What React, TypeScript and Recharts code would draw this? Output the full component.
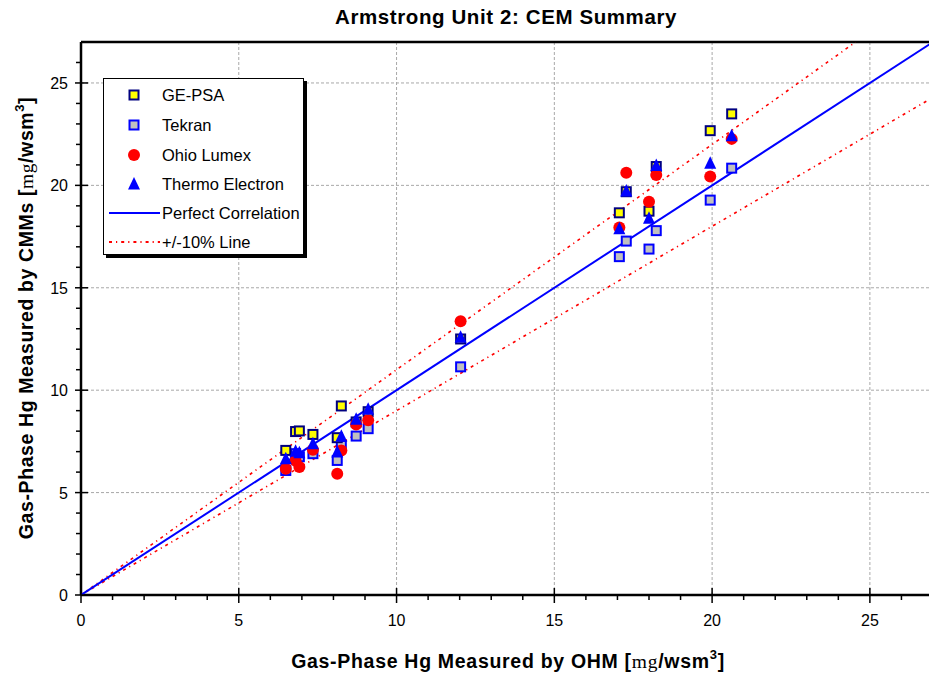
import React from "react";
import { ScatterChart, Scatter, XAxis, YAxis, CartesianGrid, ReferenceLine } from "recharts";

const ohmX = [6.49, 6.80, 6.92, 7.35, 8.12, 8.25, 8.72, 9.10, 12.03, 17.06, 17.28, 18.00, 18.23, 19.94, 20.62];
const gePsa = [7.06, 7.98, 8.01, 7.84, 7.68, 9.23, 8.45, 8.95, 12.50, 18.66, 19.69, 18.74, 20.92, 22.67, 23.49];
const tekran = [6.08, 6.90, 6.75, 6.90, 6.57, 7.30, 7.76, 8.12, 11.14, 16.52, 17.28, 16.89, 17.79, 19.28, 20.84];
const ohioLumex = [6.16, 6.55, 6.25, 7.09, 5.92, 7.06, 8.32, 8.53, 13.36, 17.94, 20.62, 19.20, 20.51, 20.43, 22.27];
const thermo = [6.65, 7.02, 6.95, 7.39, 6.98, 7.75, 8.58, 9.07, 12.58, 17.88, 19.72, 18.39, 20.97, 21.08, 22.42];

const perfectLine = [{ x: 0, y: 0 }, { x: 27, y: 27 }];
const plusLine = [{ x: 0, y: 0 }, { x: 24.55, y: 27 }];
const minusLine = [{ x: 0, y: 0 }, { x: 27, y: 24.3 }];

const axisTicks = Array.from({ length: 27 }, (_, i) => i);
const gridValues = [5, 10, 15, 20, 25];

const FONT = "'Liberation Sans', Arial, Helvetica, sans-serif";
const RED_DASH = "3 4 1.2 4";

const toPoints = (ys: number[]) => ohmX.map((x, i) => ({ x, y: ys[i] }));

const makeSquare = (fill: string, stroke: string) => (props: any) => {
  const { cx, cy } = props;
  if (cx == null || cy == null) return <g />;
  return <rect x={cx - 4.5} y={cy - 4.5} width={9} height={9} fill={fill} stroke={stroke} strokeWidth={2} />;
};
const CircleShape = (props: any) => {
  const { cx, cy } = props;
  if (cx == null || cy == null) return <g />;
  return <circle cx={cx} cy={cy} r={6} fill="#ff0000" />;
};
const TriangleShape = (props: any) => {
  const { cx, cy } = props;
  if (cx == null || cy == null) return <g />;
  return <polygon points={`${cx},${cy - 7} ${cx + 6},${cy + 5.5} ${cx - 6},${cy + 5.5}`} fill="#0000ff" />;
};
const NoShape = () => <g />;

const XTick = (props: any) => {
  const { x, y, payload } = props;
  const v = payload.value;
  const major = v % 5 === 0;
  return (
    <g>
      <line x1={x} x2={x} y1={major ? y - 7 : y} y2={y + (major ? 8 : 5)} stroke="#000" strokeWidth={1.5} />
      {major && (
        <text x={x} y={y + 31} textAnchor="middle" fontSize={16} fontFamily={FONT} fill="#000">
          {v}
        </text>
      )}
    </g>
  );
};

const YTick = (props: any) => {
  const { x, y, payload } = props;
  const v = payload.value;
  const major = v % 5 === 0;
  return (
    <g>
      <line x1={x - (major ? 6 : 5)} x2={major ? x + 7 : x} y1={y} y2={y} stroke="#000" strokeWidth={1.5} />
      {major && (
        <text x={x - 13} y={y + 6} textAnchor="end" fontSize={16} fontFamily={FONT} fill="#000">
          {v}
        </text>
      )}
    </g>
  );
};

const legendRows = [
  { label: "GE-PSA", kind: "ge" },
  { label: "Tekran", kind: "tek" },
  { label: "Ohio Lumex", kind: "ohio" },
  { label: "Thermo Electron", kind: "thermo" },
  { label: "Perfect Correlation", kind: "perfect" },
  { label: "+/-10% Line", kind: "ten" },
];

const LegendMarker = ({ kind, y }: { kind: string; y: number }) => {
  const cx = 30;
  if (kind === "ge") return <rect x={cx - 4.5} y={y - 4.5} width={9} height={9} fill="#ffff00" stroke="#000080" strokeWidth={2} />;
  if (kind === "tek") return <rect x={cx - 4.5} y={y - 4.5} width={9} height={9} fill="#c0c0c0" stroke="#0000ff" strokeWidth={2} />;
  if (kind === "ohio") return <circle cx={cx} cy={y} r={6} fill="#ff0000" />;
  if (kind === "thermo") return <polygon points={`${cx},${y - 7} ${cx + 6},${y + 5.5} ${cx - 6},${y + 5.5}`} fill="#0000ff" />;
  if (kind === "perfect") return <line x1={5} x2={56} y1={y} y2={y} stroke="#0000ff" strokeWidth={2} />;
  return <line x1={5} x2={56} y1={y} y2={y} stroke="#ff0000" strokeWidth={1.8} strokeDasharray={RED_DASH} />;
};

export default function App() {
  const rowY = [16, 46, 76, 105, 134, 163];
  return (
    <div style={{ position: "absolute", left: 0, top: 0, width: 929, height: 676, overflow: "hidden", background: "#fff" }}>
      <ScatterChart width={940} height={676} margin={{ top: 42, right: 7, bottom: 51, left: 21 }}>
        <CartesianGrid
          horizontalValues={gridValues}
          verticalValues={gridValues}
          stroke="#a8a8a8"
          strokeDasharray="3 2"
          strokeWidth={1}
        />
        <XAxis
          type="number"
          dataKey="x"
          domain={[0, 27]}
          ticks={axisTicks}
          interval={0}
          tickSize={0}
          tickMargin={0}
          tickLine={false}
          tick={<XTick />}
          height={30}
          axisLine={{ stroke: "#000", strokeWidth: 2.5 }}
          allowDataOverflow
        />
        <YAxis
          type="number"
          dataKey="y"
          domain={[0, 27]}
          ticks={axisTicks}
          interval={0}
          tickSize={0}
          tickMargin={0}
          tickLine={false}
          tick={<YTick />}
          width={60}
          axisLine={{ stroke: "#000", strokeWidth: 2.5 }}
          allowDataOverflow
        />
        <ReferenceLine y={27} stroke="#000" strokeWidth={2.5} ifOverflow="visible" />
        <Scatter data={plusLine} line={{ stroke: "#ff0000", strokeWidth: 1.6, strokeDasharray: RED_DASH }} shape={NoShape} isAnimationActive={false} legendType="none" />
        <Scatter data={minusLine} line={{ stroke: "#ff0000", strokeWidth: 1.6, strokeDasharray: RED_DASH }} shape={NoShape} isAnimationActive={false} legendType="none" />
        <Scatter data={perfectLine} line={{ stroke: "#0000ff", strokeWidth: 2 }} shape={NoShape} isAnimationActive={false} legendType="none" />
        <Scatter name="Tekran" data={toPoints(tekran)} shape={makeSquare("#c0c0c0", "#0000ff")} isAnimationActive={false} />
        <Scatter name="GE-PSA" data={toPoints(gePsa)} shape={makeSquare("#ffff00", "#000080")} isAnimationActive={false} />
        <Scatter name="Ohio Lumex" data={toPoints(ohioLumex)} shape={CircleShape} isAnimationActive={false} />
        <Scatter name="Thermo Electron" data={toPoints(thermo)} shape={TriangleShape} isAnimationActive={false} />
      </ScatterChart>

      <svg width={929} height={676} style={{ position: "absolute", left: 0, top: 0, pointerEvents: "none" }} fontFamily={FONT}>
        <text x={506} y={24} textAnchor="middle" fontSize={20.5} letterSpacing={0.6} fontWeight="bold" fill="#000">
          Armstrong Unit 2: CEM Summary
        </text>
        <text x={508} y={668} textAnchor="middle" fontSize={19.5} letterSpacing={0.7} fontWeight="bold" fill="#000">
          Gas-Phase Hg Measured by OHM [<tspan fontFamily="'Liberation Serif', serif" fontWeight="normal">mg</tspan>/wsm
          <tspan dy={-9} fontSize={13}>3</tspan>
          <tspan dy={9}>]</tspan>
        </text>
        <text
          x={0}
          y={0}
          transform="translate(33,318) rotate(-90)"
          textAnchor="middle"
          fontSize={19.5}
          letterSpacing={0.6}
          fontWeight="bold"
          fill="#000"
        >
          Gas-Phase Hg Measured by CMMs [<tspan fontFamily="'Liberation Serif', serif" fontWeight="normal">mg</tspan>/wsm
          <tspan dy={-9} fontSize={13}>3</tspan>
          <tspan dy={9}>]</tspan>
        </text>
      </svg>

      <div
        style={{
          position: "absolute",
          left: 103,
          top: 78,
          width: 199,
          height: 175,
          border: "1.5px solid #000",
          boxShadow: "3px 3px 0 #000",
          background: "#fff",
        }}
      >
        <svg width={199} height={175} fontFamily={FONT}>
          {legendRows.map((r, i) => (
            <g key={r.label}>
              <LegendMarker kind={r.kind} y={rowY[i]} />
              <text x={58} y={rowY[i] + 5.5} fontSize={16.5} fill="#000">
                {r.label}
              </text>
            </g>
          ))}
        </svg>
      </div>
    </div>
  );
}
